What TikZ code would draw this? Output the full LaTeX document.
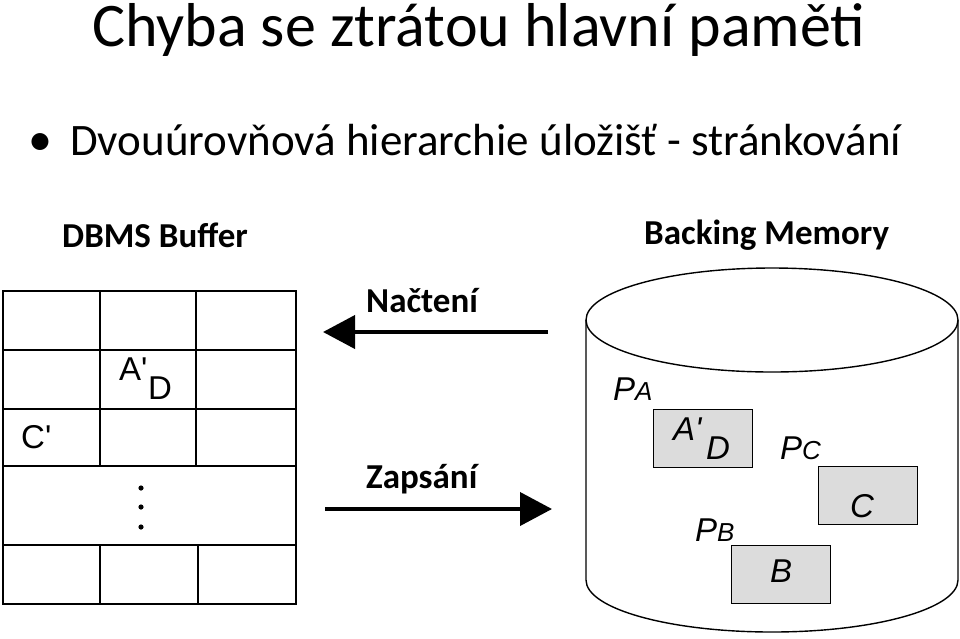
\documentclass[tikz,border=0pt]{standalone}
\usepackage{fontspec}
\setmainfont{Carlito}
\newfontfamily\arialf{Liberation Sans}
\usetikzlibrary{arrows.meta,positioning}
\definecolor{pagegray}{RGB}{220,220,220}

\newcommand{\fsz}[1]{\fontsize{#1}{#1}\selectfont}

\begin{document}
\begin{tikzpicture}[x=1pt, y=-1pt,
    every node/.style={inner sep=0pt, anchor=base west},
    cellline/.style={line width=1.6pt},
    flow/.style={line width=4pt, -{Triangle[length=32pt, width=33pt]}},
    pagebox/.style={draw, line width=1.4pt, fill=pagegray, minimum width=99pt, minimum height=58pt, anchor=north west},
    letter/.style={font=\arialf\fsz{33}},
    pletter/.style={font=\arialf\itshape\fsz{33}}]
    \useasboundingbox (0,0) rectangle (960,638);

    % headings
    \node[font=\fsz{62}] (title) at (92,46) {Chyba se ztrátou hlavní paměti};
    \node[font=\fsz{48}] (bullet) at (28,155) {•};
    \node[font=\fsz{45}] (point) at (70,155) {Dvouúrovňová hierarchie úložišť - stránkování};

    % buffer
    \node[font=\bfseries\fsz{35}] (buflabel) at (62,247) {DBMS Buffer};
    \draw[cellline] (3,291) rectangle (296,604);
    \foreach \y in {350,409,466,545}
      \draw[cellline] (3,\y) -- (296,\y);
    \draw[cellline] (100,291) -- (100,466);
    \draw[cellline] (196,291) -- (196,466);
    \draw[cellline] (100,545) -- (100,604);
    \draw[cellline] (198,545) -- (198,604);
    \node[letter] (bufa) at (119,380) {A'};
    \node[letter] (bufd) at (148,399) {D};
    \node[letter] (bufc) at (21,448) {C'};
    \foreach \y in {488,507,527}
      \fill (141,\y) circle (2.6pt);

    % transfers
    \coordinate (loadsrc) at (548,332);
    \coordinate (loaddst) at (323,332);
    \coordinate (storesrc) at (325,509);
    \coordinate (storedst) at (552,509);
    \draw[flow] (loadsrc) -- (loaddst);
    \draw[flow] (storesrc) -- (storedst);
    \node[font=\bfseries\fsz{35}] (loadlabel) at (366,312) {Načtení};
    \node[font=\bfseries\fsz{35}] (storelabel) at (366,488) {Zapsání};

    % backing memory
    \node[font=\bfseries\fsz{35}] (memlabel) at (644,244) {Backing Memory};
    \draw[line width=1.4pt] (772,320) ellipse[x radius=186, y radius=52];
    \draw[line width=1.4pt] (586,320) -- (586,580)
      arc[start angle=180, end angle=0, x radius=186, y radius=52] -- (958,320);

    \node[pagebox] (pagea) at (653,409) {};
    \node[pagebox] (pagec) at (818,466) {};
    \node[pagebox] (pageb) at (731,545) {};

    \node[pletter] (pa) at (613,400) {P{\fsz{26}A}};
    \node[pletter] (pc) at (780,459) {P{\fsz{26}C}};
    \node[pletter] (pb) at (695,541) {P{\fsz{26}B}};
    \node[pletter] (memaa) at (673,440) {A'};
    \node[pletter] (memad) at (706,459) {D};
    \node[pletter] (memc) at (850,517) {C};
    \node[pletter] (memb) at (770,582) {B};
\end{tikzpicture}
\end{document}
